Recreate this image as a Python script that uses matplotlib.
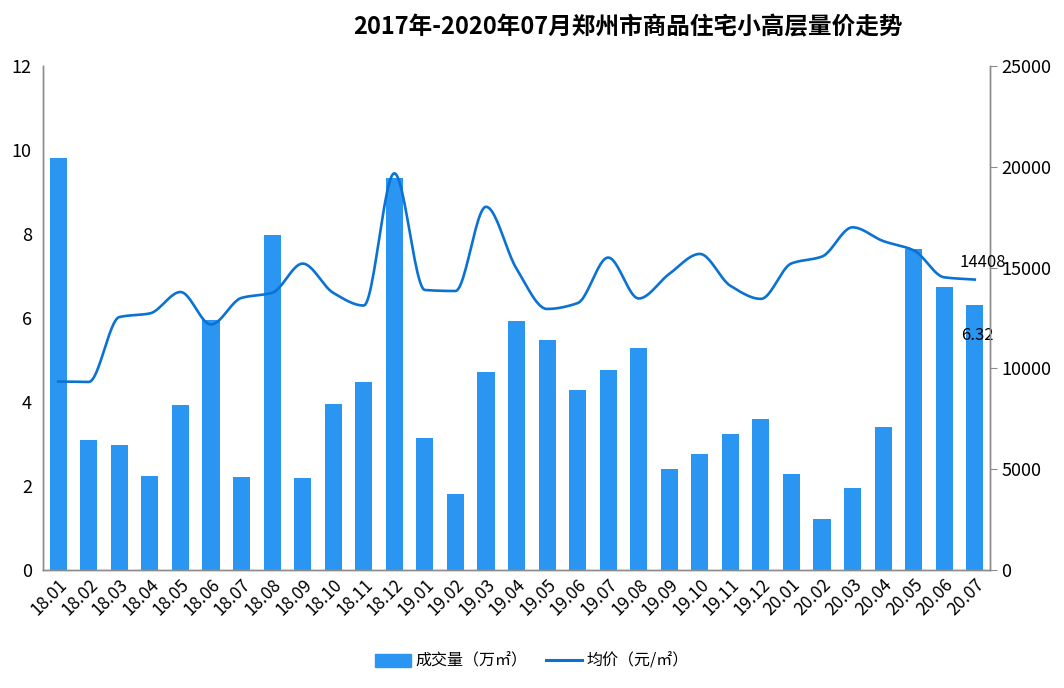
import numpy as np
import matplotlib
matplotlib.use("Agg")
import matplotlib.pyplot as plt
from matplotlib.patches import Patch
from matplotlib.lines import Line2D

plt.rcParams['font.family'] = ['Noto Sans CJK SC', 'DejaVu Sans']

# months 18.01 .. 20.07
months = ["18.01", "18.02", "18.03", "18.04", "18.05", "18.06", "18.07", "18.08",
          "18.09", "18.10", "18.11", "18.12", "19.01", "19.02", "19.03", "19.04",
          "19.05", "19.06", "19.07", "19.08", "19.09", "19.10", "19.11", "19.12",
          "20.01", "20.02", "20.03", "20.04", "20.05", "20.06", "20.07"]

# 成交量 (万㎡)
volume = [9.81, 3.10, 2.98, 2.24, 3.93, 5.95, 2.21, 7.98, 2.19, 3.95, 4.48, 9.33,
          3.14, 1.81, 4.71, 5.93, 5.48, 4.29, 4.76, 5.29, 2.40, 2.76, 3.24, 3.60,
          2.29, 1.21, 1.95, 3.40, 7.64, 6.74, 6.32]

# 均价 (元/㎡)
price = [9350, 9330, 12550, 12730, 13790, 12180, 13500, 13750, 15200, 13750, 13120, 19680,
         13890, 13840, 18020, 14950, 12950, 13240, 15500, 13470, 14690, 15680, 14100, 13450,
         15210, 15550, 17000, 16320, 15860, 14520, 14408]

bar_color = "#2A96F2"
line_color = "#0A72D4"


def smooth(x, y, n=24):
    # monotone cubic (Fritsch-Carlson) so the curve passes through each point without overshoot
    x = np.asarray(x, float)
    y = np.asarray(y, float)
    d = np.diff(y) / np.diff(x)
    m = np.zeros_like(y)
    m[0], m[-1] = d[0], d[-1]
    for i in range(1, len(y) - 1):
        if d[i - 1] * d[i] <= 0:
            m[i] = 0
        else:
            m[i] = 2 / (1 / d[i - 1] + 1 / d[i])
    xs, ys = [], []
    for i in range(len(x) - 1):
        h = x[i + 1] - x[i]
        t = np.linspace(0, 1, n, endpoint=False)
        h00 = 2 * t**3 - 3 * t**2 + 1
        h10 = t**3 - 2 * t**2 + t
        h01 = -2 * t**3 + 3 * t**2
        h11 = t**3 - t**2
        xs.extend(x[i] + t * h)
        ys.extend(h00 * y[i] + h10 * h * m[i] + h01 * y[i + 1] + h11 * h * m[i + 1])
    xs.append(x[-1])
    ys.append(y[-1])
    return np.array(xs), np.array(ys)


fig = plt.figure(figsize=(10.64, 6.88), dpi=100)
ax = fig.add_axes([0.0404, 0.1715, 0.8901, 0.7325])
ax2 = ax.twinx()

x = np.arange(len(months))
ax.bar(x, volume, width=0.56, color=bar_color, zorder=2)
ax.set_xlim(-0.5, len(months) - 0.5)
ax.set_ylim(0, 12)
ax.set_yticks(range(0, 13, 2))

xs, ys = smooth(x, price)
ax2.plot(xs, ys, color=line_color, lw=1.9, zorder=3)
ax2.set_ylim(0, 25000)
ax2.set_yticks(range(0, 25001, 5000))

for a in (ax, ax2):
    a.spines['top'].set_visible(False)
    for s in ('left', 'right', 'bottom'):
        a.spines[s].set_color('#8c8c8c')
        a.spines[s].set_linewidth(1.0)

ax.tick_params(axis='y', length=0, labelsize=13, pad=8)
ax.tick_params(axis='x', length=0, labelsize=12.5, pad=4)
ax2.tick_params(axis='y', length=5, color='#8c8c8c', labelsize=13, pad=3)
ax.set_xticks(x)
ax.set_xticklabels(months, rotation=45, ha='right', rotation_mode='anchor')

# data labels on the last point
ax2.annotate(f"{price[-1]}", (x[-1], price[-1]), xytext=(6, 12), textcoords='offset points',
             ha='center', va='center', fontsize=12)
ax.annotate(f"{volume[-1]:.2f}", (x[-1], volume[-1]), xytext=(2, -22), textcoords='offset points',
            ha='center', va='center', fontsize=12)

fig.text(0.59, 0.96, "2017年-2020年07月郑州市商品住宅小高层量价走势",
         ha='center', va='center', fontsize=17, fontweight='bold')

handles = [Patch(color=bar_color), Line2D([0], [0], color=line_color, lw=2.2)]
fig.legend(handles, ["成交量（万㎡）", "均价（元/㎡）"], loc='center', bbox_to_anchor=(0.5, 0.039),
           ncol=2, frameon=False, fontsize=11.5, handlelength=2.2, handleheight=0.9,
           columnspacing=1.2, handletextpad=0.3)

fig.savefig("out.png", dpi=100)
